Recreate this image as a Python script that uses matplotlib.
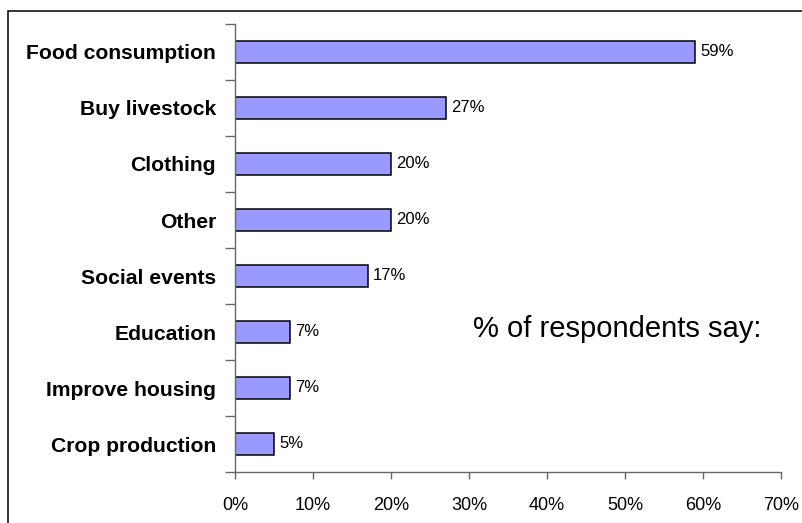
import matplotlib
matplotlib.use("Agg")
import matplotlib.pyplot as plt
from matplotlib.patches import Rectangle
from matplotlib.ticker import FixedLocator, PercentFormatter

plt.rcParams["font.family"] = ["Liberation Sans", "DejaVu Sans"]

categories = [
    "Food consumption",
    "Buy livestock",
    "Clothing",
    "Other",
    "Social events",
    "Education",
    "Improve housing",
    "Crop production",
]
percent = [59, 27, 20, 20, 17, 7, 7, 5]
x_ticks = [0, 10, 20, 30, 40, 50, 60, 70]

W, H = 803, 523
fig = plt.figure(figsize=(W / 100, H / 100), dpi=100)
ax = fig.add_axes([235 / W, 1 - 472 / H, (781 - 235) / W, (472 - 24) / H])

pos = list(range(len(categories)))
bars = ax.barh(pos, percent, height=0.4, color="#9999FF",
               edgecolor="black", linewidth=1.1)

for b, v in zip(bars, percent):
    ax.text(b.get_width() + 0.7, b.get_y() + b.get_height() / 2, f"{v}%",
            va="center", ha="left", fontsize=12)

ax.set_xlim(0, 70)
ax.set_ylim(len(categories) - 0.5, -0.5)
ax.xaxis.set_major_locator(FixedLocator(x_ticks))
ax.xaxis.set_major_formatter(PercentFormatter(decimals=0))

# boundary ticks between categories, labels sit on minor ticks at bar centres
ax.yaxis.set_major_locator(FixedLocator([p - 0.5 for p in range(len(categories) + 1)]))
ax.yaxis.set_major_formatter(plt.NullFormatter())
ax.yaxis.set_minor_locator(FixedLocator(pos))
ax.set_yticklabels(categories, minor=True, fontsize=15.2, fontweight="bold")

ax.tick_params(axis="y", which="major", length=7, width=1, color="#666666")
ax.tick_params(axis="y", which="minor", length=0, pad=13.5)
ax.tick_params(axis="x", length=5, width=1, color="#666666", labelsize=13, pad=13)

for side in ["top", "right"]:
    ax.spines[side].set_visible(False)
for side in ["left", "bottom"]:
    ax.spines[side].set_color("#666666")
    ax.spines[side].set_linewidth(1)

fig.text(473 / W, 1 - 337 / H, "% of respondents say:", fontsize=21,
         ha="left", va="baseline")

# outer frame around the chart area
fig.patches.append(Rectangle((8 / W, -0.1), 1.2, 1 - 11 / H + 0.1,
                             transform=fig.transFigure, fill=False,
                             edgecolor="black", linewidth=1.1))

plt.savefig("out.png", dpi=100)
